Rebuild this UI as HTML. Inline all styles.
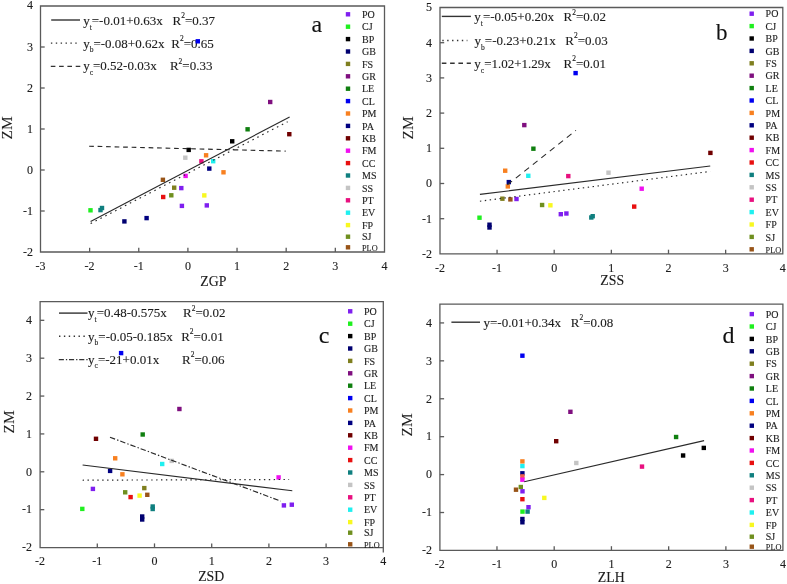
<!DOCTYPE html>
<html><head><meta charset="utf-8"><title>ZM scatter plots</title><style>
html,body{margin:0;padding:0;background:#fff;width:787px;height:584px;overflow:hidden;}
svg{display:block;filter:blur(0.4px);}
text{font-family:"Liberation Serif",serif;fill:#1c1c1c;stroke:#1c1c1c;stroke-width:0.12px;}
.tl{font-size:12px;}
.at{font-size:13.8px;}
.zm{font-size:15.3px;}
.eq{font-size:13px;}
.sb,.sp{font-size:7.5px;}
.lg{font-size:10px;}
.lgs{font-size:9px;}
.pl{font-size:24px;fill:#111;}
</style></head><body>
<svg width="787" height="584" viewBox="0 0 787 584">
<rect width="787" height="584" fill="#fff"/>
<path d="M40.5 6H384.5V252H40.5Z" fill="none" stroke="#5a5a5a" stroke-width="1.3"/>
<text x="40.48" y="270" class="tl" text-anchor="middle">-3</text>
<line x1="89.62" y1="252" x2="89.62" y2="247.8" stroke="#5a5a5a" stroke-width="1.3"/>
<text x="89.62" y="270" class="tl" text-anchor="middle">-2</text>
<line x1="138.76" y1="252" x2="138.76" y2="247.8" stroke="#5a5a5a" stroke-width="1.3"/>
<text x="138.76" y="270" class="tl" text-anchor="middle">-1</text>
<line x1="187.9" y1="252" x2="187.9" y2="247.8" stroke="#5a5a5a" stroke-width="1.3"/>
<text x="187.9" y="270" class="tl" text-anchor="middle">0</text>
<line x1="237.04" y1="252" x2="237.04" y2="247.8" stroke="#5a5a5a" stroke-width="1.3"/>
<text x="237.04" y="270" class="tl" text-anchor="middle">1</text>
<line x1="286.18" y1="252" x2="286.18" y2="247.8" stroke="#5a5a5a" stroke-width="1.3"/>
<text x="286.18" y="270" class="tl" text-anchor="middle">2</text>
<line x1="335.32" y1="252" x2="335.32" y2="247.8" stroke="#5a5a5a" stroke-width="1.3"/>
<text x="335.32" y="270" class="tl" text-anchor="middle">3</text>
<text x="384.46" y="270" class="tl" text-anchor="middle">4</text>
<text x="33" y="255.8" class="tl" text-anchor="end">-2</text>
<line x1="40.5" y1="211" x2="44.7" y2="211" stroke="#5a5a5a" stroke-width="1.3"/>
<text x="33" y="214.8" class="tl" text-anchor="end">-1</text>
<line x1="40.5" y1="170" x2="44.7" y2="170" stroke="#5a5a5a" stroke-width="1.3"/>
<text x="33" y="173.8" class="tl" text-anchor="end">0</text>
<line x1="40.5" y1="129" x2="44.7" y2="129" stroke="#5a5a5a" stroke-width="1.3"/>
<text x="33" y="132.8" class="tl" text-anchor="end">1</text>
<line x1="40.5" y1="88" x2="44.7" y2="88" stroke="#5a5a5a" stroke-width="1.3"/>
<text x="33" y="91.8" class="tl" text-anchor="end">2</text>
<line x1="40.5" y1="47" x2="44.7" y2="47" stroke="#5a5a5a" stroke-width="1.3"/>
<text x="33" y="50.8" class="tl" text-anchor="end">3</text>
<text x="33" y="8.9" class="tl" text-anchor="end">4</text>
<text x="213.4" y="286.3" class="at" text-anchor="middle">ZGP</text>
<text class="zm" text-anchor="middle" transform="translate(11.5 128) rotate(-90)">ZM</text>
<rect x="88.3" y="208.1" width="4.4" height="4.4" fill="#1ff01f"/>
<rect x="98.3" y="207.9" width="4.4" height="4.4" fill="#0f7f7f"/>
<rect x="99.8" y="205.8" width="4.4" height="4.4" fill="#0f7f7f"/>
<rect x="122.2" y="219.2" width="4.4" height="4.4" fill="#000070"/>
<rect x="144.4" y="215.9" width="4.4" height="4.4" fill="#000080"/>
<rect x="160.7" y="177.6" width="4.4" height="4.4" fill="#985418"/>
<rect x="161" y="194.8" width="4.4" height="4.4" fill="#e81010"/>
<rect x="169.1" y="193.1" width="4.4" height="4.4" fill="#6f8f1f"/>
<rect x="172" y="185.5" width="4.4" height="4.4" fill="#7f7f1f"/>
<rect x="179.1" y="185.9" width="4.4" height="4.4" fill="#7f1fef"/>
<rect x="179.7" y="203.7" width="4.4" height="4.4" fill="#7f1fef"/>
<rect x="183.4" y="173.7" width="4.4" height="4.4" fill="#f010f0"/>
<rect x="183.1" y="155.5" width="4.4" height="4.4" fill="#c4c4c4"/>
<rect x="186.5" y="147.7" width="4.4" height="4.4" fill="#000000"/>
<rect x="199.2" y="159.1" width="4.4" height="4.4" fill="#e8107f"/>
<rect x="203.9" y="153.1" width="4.4" height="4.4" fill="#f88020"/>
<rect x="211" y="159" width="4.4" height="4.4" fill="#1ff0f0"/>
<rect x="207.1" y="166.4" width="4.4" height="4.4" fill="#000080"/>
<rect x="202.1" y="193.2" width="4.4" height="4.4" fill="#f8f820"/>
<rect x="204.6" y="203.2" width="4.4" height="4.4" fill="#7f1fef"/>
<rect x="221.3" y="170.1" width="4.4" height="4.4" fill="#f88020"/>
<rect x="230" y="139.1" width="4.4" height="4.4" fill="#000000"/>
<rect x="245.4" y="127.1" width="4.4" height="4.4" fill="#0f7f0f"/>
<rect x="268" y="99.8" width="4.4" height="4.4" fill="#7f0f7f"/>
<rect x="287.1" y="132" width="4.4" height="4.4" fill="#700000"/>
<line x1="90.6" y1="221.55" x2="289.62" y2="116.94" stroke="#2a2a2a" stroke-width="1.15"/>
<line x1="90.6" y1="223.61" x2="287.65" y2="121.68" stroke="#2a2a2a" stroke-width="1.15" stroke-dasharray="1.58 3.94"/>
<line x1="89.13" y1="146.21" x2="285.69" y2="151.13" stroke="#2a2a2a" stroke-width="1.15" stroke-dasharray="4.7 3.8"/>
<line x1="51.2" y1="20" x2="80" y2="20" stroke="#333" stroke-width="1.4"/>
<text x="83.2" y="25" class="eq">y<tspan class="sb" dy="4.8">t</tspan><tspan dy="-4.8">=-0.01+0.63x</tspan></text>
<text x="172.6" y="25" class="eq">R<tspan class="sp" dy="-6.8">2</tspan><tspan dy="6.8">=0.37</tspan></text>
<line x1="50.9" y1="43.1" x2="77" y2="43.1" stroke="#333" stroke-width="1.4" stroke-dasharray="1.4 3.48"/>
<text x="83.2" y="47.5" class="eq">y<tspan class="sb" dy="4.8">b</tspan><tspan dy="-4.8">=-0.08+0.62x</tspan></text>
<text x="171.3" y="47.5" class="eq">R<tspan class="sp" dy="-6.8">2</tspan><tspan dy="6.8">=0.65</tspan></text>
<line x1="50.8" y1="66.4" x2="80.3" y2="66.4" stroke="#333" stroke-width="1.4" stroke-dasharray="4.6 3.7"/>
<text x="83.2" y="70.4" class="eq">y<tspan class="sb" dy="4.8">c</tspan><tspan dy="-4.8">=0.52-0.03x</tspan></text>
<text x="169.9" y="70.4" class="eq">R<tspan class="sp" dy="-6.8">2</tspan><tspan dy="6.8">=0.33</tspan></text>
<rect x="195.6" y="39.1" width="4.4" height="4.4" fill="#0000f0"/>
<text x="311.5" y="32" class="pl">a</text>
<rect x="345.8" y="12.1" width="4.4" height="4.4" fill="#7f1fef"/>
<text x="362" y="17.9" class="lg">PO</text>
<rect x="345.8" y="24.5" width="4.4" height="4.4" fill="#1ff01f"/>
<text x="362" y="30.3" class="lg">CJ</text>
<rect x="345.8" y="36.9" width="4.4" height="4.4" fill="#000000"/>
<text x="362" y="42.7" class="lg">BP</text>
<rect x="345.8" y="49.3" width="4.4" height="4.4" fill="#000070"/>
<text x="362" y="55.1" class="lg">GB</text>
<rect x="345.8" y="61.7" width="4.4" height="4.4" fill="#7f7f1f"/>
<text x="362" y="67.5" class="lg">FS</text>
<rect x="345.8" y="74.1" width="4.4" height="4.4" fill="#7f0f7f"/>
<text x="362" y="79.9" class="lg">GR</text>
<rect x="345.8" y="86.5" width="4.4" height="4.4" fill="#0f7f0f"/>
<text x="362" y="92.3" class="lg">LE</text>
<rect x="345.8" y="98.9" width="4.4" height="4.4" fill="#0000f0"/>
<text x="362" y="104.7" class="lg">CL</text>
<rect x="345.8" y="111.3" width="4.4" height="4.4" fill="#f88020"/>
<text x="362" y="117.1" class="lg">PM</text>
<rect x="345.8" y="123.7" width="4.4" height="4.4" fill="#000080"/>
<text x="362" y="129.5" class="lg">PA</text>
<rect x="345.8" y="136.1" width="4.4" height="4.4" fill="#700000"/>
<text x="362" y="141.9" class="lg">KB</text>
<rect x="345.8" y="148.5" width="4.4" height="4.4" fill="#f010f0"/>
<text x="362" y="154.3" class="lg">FM</text>
<rect x="345.8" y="160.9" width="4.4" height="4.4" fill="#e81010"/>
<text x="362" y="166.7" class="lg">CC</text>
<rect x="345.8" y="173.3" width="4.4" height="4.4" fill="#0f7f7f"/>
<text x="362" y="179.1" class="lg">MS</text>
<rect x="345.8" y="185.7" width="4.4" height="4.4" fill="#c4c4c4"/>
<text x="362" y="191.5" class="lg">SS</text>
<rect x="345.8" y="198.1" width="4.4" height="4.4" fill="#e8107f"/>
<text x="362" y="203.9" class="lg">PT</text>
<rect x="345.8" y="210.5" width="4.4" height="4.4" fill="#1ff0f0"/>
<text x="362" y="216.3" class="lg">EV</text>
<rect x="345.8" y="222.9" width="4.4" height="4.4" fill="#f8f820"/>
<text x="362" y="228.7" class="lg">FP</text>
<rect x="345.8" y="234.5" width="4.4" height="4.4" fill="#6f8f1f"/>
<text x="362" y="240.3" class="lg">SJ</text>
<rect x="345.8" y="245.1" width="4.4" height="4.4" fill="#985418"/>
<text x="362" y="250.7" class="lgs" textLength="15.6" lengthAdjust="spacingAndGlyphs">PLO</text>
<path d="M440 7.5H782.8V253.9H440Z" fill="none" stroke="#5a5a5a" stroke-width="1.3"/>
<text x="439.9" y="271.7" class="tl" text-anchor="middle">-2</text>
<line x1="497.05" y1="253.9" x2="497.05" y2="249.7" stroke="#5a5a5a" stroke-width="1.3"/>
<text x="497.05" y="271.7" class="tl" text-anchor="middle">-1</text>
<line x1="554.2" y1="253.9" x2="554.2" y2="249.7" stroke="#5a5a5a" stroke-width="1.3"/>
<text x="554.2" y="271.7" class="tl" text-anchor="middle">0</text>
<line x1="611.35" y1="253.9" x2="611.35" y2="249.7" stroke="#5a5a5a" stroke-width="1.3"/>
<text x="611.35" y="271.7" class="tl" text-anchor="middle">1</text>
<line x1="668.5" y1="253.9" x2="668.5" y2="249.7" stroke="#5a5a5a" stroke-width="1.3"/>
<text x="668.5" y="271.7" class="tl" text-anchor="middle">2</text>
<line x1="725.65" y1="253.9" x2="725.65" y2="249.7" stroke="#5a5a5a" stroke-width="1.3"/>
<text x="725.65" y="271.7" class="tl" text-anchor="middle">3</text>
<text x="782.8" y="271.7" class="tl" text-anchor="middle">4</text>
<text x="432" y="257.7" class="tl" text-anchor="end">-2</text>
<line x1="440" y1="218.7" x2="444.2" y2="218.7" stroke="#5a5a5a" stroke-width="1.3"/>
<text x="432" y="222.5" class="tl" text-anchor="end">-1</text>
<line x1="440" y1="183.5" x2="444.2" y2="183.5" stroke="#5a5a5a" stroke-width="1.3"/>
<text x="432" y="187.3" class="tl" text-anchor="end">0</text>
<line x1="440" y1="148.3" x2="444.2" y2="148.3" stroke="#5a5a5a" stroke-width="1.3"/>
<text x="432" y="152.1" class="tl" text-anchor="end">1</text>
<line x1="440" y1="113.1" x2="444.2" y2="113.1" stroke="#5a5a5a" stroke-width="1.3"/>
<text x="432" y="116.9" class="tl" text-anchor="end">2</text>
<line x1="440" y1="77.9" x2="444.2" y2="77.9" stroke="#5a5a5a" stroke-width="1.3"/>
<text x="432" y="81.7" class="tl" text-anchor="end">3</text>
<line x1="440" y1="42.7" x2="444.2" y2="42.7" stroke="#5a5a5a" stroke-width="1.3"/>
<text x="432" y="46.5" class="tl" text-anchor="end">4</text>
<text x="432" y="11.3" class="tl" text-anchor="end">5</text>
<text x="612.2" y="284.6" class="at" text-anchor="middle">ZSS</text>
<text class="zm" text-anchor="middle" transform="translate(413 128) rotate(-90)">ZM</text>
<rect x="573.4" y="70.9" width="4.4" height="4.4" fill="#0000f0"/>
<rect x="522.1" y="122.9" width="4.4" height="4.4" fill="#7f0f7f"/>
<rect x="531.2" y="146.5" width="4.4" height="4.4" fill="#0f7f0f"/>
<rect x="708.2" y="150.7" width="4.4" height="4.4" fill="#700000"/>
<rect x="503" y="168.5" width="4.4" height="4.4" fill="#f88020"/>
<rect x="606.3" y="170.5" width="4.4" height="4.4" fill="#c4c4c4"/>
<rect x="526.1" y="173.6" width="4.4" height="4.4" fill="#1ff0f0"/>
<rect x="566.1" y="173.9" width="4.4" height="4.4" fill="#e8107f"/>
<rect x="505.6" y="184.2" width="4.4" height="4.4" fill="#f88020"/>
<rect x="506.6" y="179.9" width="4.4" height="4.4" fill="#000080"/>
<rect x="639.5" y="186.5" width="4.4" height="4.4" fill="#f010f0"/>
<rect x="500.2" y="196.5" width="4.4" height="4.4" fill="#7f7f1f"/>
<rect x="508.2" y="197.2" width="4.4" height="4.4" fill="#985418"/>
<rect x="514.3" y="196.8" width="4.4" height="4.4" fill="#7f1fef"/>
<rect x="539.9" y="202.8" width="4.4" height="4.4" fill="#6f8f1f"/>
<rect x="548.2" y="203.1" width="4.4" height="4.4" fill="#f8f820"/>
<rect x="632" y="204.4" width="4.4" height="4.4" fill="#e81010"/>
<rect x="558.6" y="212" width="4.4" height="4.4" fill="#7f1fef"/>
<rect x="564.2" y="211.3" width="4.4" height="4.4" fill="#7f1fef"/>
<rect x="589.1" y="215.3" width="4.4" height="4.4" fill="#0f7f7f"/>
<rect x="590.5" y="214" width="4.4" height="4.4" fill="#0f7f7f"/>
<rect x="477.3" y="215.5" width="4.4" height="4.4" fill="#1ff01f"/>
<rect x="487.3" y="222.5" width="4.4" height="4.4" fill="#000070"/>
<rect x="487.3" y="225.3" width="4.4" height="4.4" fill="#000070"/>
<line x1="479.91" y1="194.41" x2="710.22" y2="166.04" stroke="#2a2a2a" stroke-width="1.15"/>
<line x1="479.91" y1="201.21" x2="710.22" y2="171.42" stroke="#2a2a2a" stroke-width="1.15" stroke-dasharray="1.41 3.53"/>
<line x1="507.34" y1="184.83" x2="575.92" y2="130.34" stroke="#2a2a2a" stroke-width="1.15" stroke-dasharray="6 4.85"/>
<line x1="441.8" y1="16.4" x2="470.9" y2="16.4" stroke="#333" stroke-width="1.4"/>
<text x="474.3" y="21.4" class="eq">y<tspan class="sb" dy="4.8">t</tspan><tspan dy="-4.8">=-0.05+0.20x</tspan></text>
<text x="563.5" y="21.4" class="eq">R<tspan class="sp" dy="-6.8">2</tspan><tspan dy="6.8">=0.02</tspan></text>
<line x1="442.3" y1="40.5" x2="467.4" y2="40.5" stroke="#333" stroke-width="1.4" stroke-dasharray="1.4 3.48"/>
<text x="474.6" y="44.8" class="eq">y<tspan class="sb" dy="4.8">b</tspan><tspan dy="-4.8">=-0.23+0.21x</tspan></text>
<text x="565.3" y="44.8" class="eq">R<tspan class="sp" dy="-6.8">2</tspan><tspan dy="6.8">=0.03</tspan></text>
<line x1="441.8" y1="63.3" x2="470.9" y2="63.3" stroke="#333" stroke-width="1.4" stroke-dasharray="4.6 3.7"/>
<text x="474.3" y="67.8" class="eq">y<tspan class="sb" dy="4.8">c</tspan><tspan dy="-4.8">=1.02+1.29x</tspan></text>
<text x="563.5" y="67.8" class="eq">R<tspan class="sp" dy="-6.8">2</tspan><tspan dy="6.8">=0.01</tspan></text>
<text x="716" y="39.5" class="pl" style="font-size:23px">b</text>
<rect x="749.5" y="11.5" width="4.4" height="4.4" fill="#7f1fef"/>
<text x="765.6" y="17.3" class="lg">PO</text>
<rect x="749.5" y="23.9" width="4.4" height="4.4" fill="#1ff01f"/>
<text x="765.6" y="29.7" class="lg">CJ</text>
<rect x="749.5" y="36.3" width="4.4" height="4.4" fill="#000000"/>
<text x="765.6" y="42.1" class="lg">BP</text>
<rect x="749.5" y="48.7" width="4.4" height="4.4" fill="#000070"/>
<text x="765.6" y="54.5" class="lg">GB</text>
<rect x="749.5" y="61.1" width="4.4" height="4.4" fill="#7f7f1f"/>
<text x="765.6" y="66.9" class="lg">FS</text>
<rect x="749.5" y="73.5" width="4.4" height="4.4" fill="#7f0f7f"/>
<text x="765.6" y="79.3" class="lg">GR</text>
<rect x="749.5" y="85.9" width="4.4" height="4.4" fill="#0f7f0f"/>
<text x="765.6" y="91.7" class="lg">LE</text>
<rect x="749.5" y="98.3" width="4.4" height="4.4" fill="#0000f0"/>
<text x="765.6" y="104.1" class="lg">CL</text>
<rect x="749.5" y="110.7" width="4.4" height="4.4" fill="#f88020"/>
<text x="765.6" y="116.5" class="lg">PM</text>
<rect x="749.5" y="123.1" width="4.4" height="4.4" fill="#000080"/>
<text x="765.6" y="128.9" class="lg">PA</text>
<rect x="749.5" y="135.5" width="4.4" height="4.4" fill="#700000"/>
<text x="765.6" y="141.3" class="lg">KB</text>
<rect x="749.5" y="147.9" width="4.4" height="4.4" fill="#f010f0"/>
<text x="765.6" y="153.7" class="lg">FM</text>
<rect x="749.5" y="160.3" width="4.4" height="4.4" fill="#e81010"/>
<text x="765.6" y="166.1" class="lg">CC</text>
<rect x="749.5" y="172.7" width="4.4" height="4.4" fill="#0f7f7f"/>
<text x="765.6" y="178.5" class="lg">MS</text>
<rect x="749.5" y="185.1" width="4.4" height="4.4" fill="#c4c4c4"/>
<text x="765.6" y="190.9" class="lg">SS</text>
<rect x="749.5" y="197.5" width="4.4" height="4.4" fill="#e8107f"/>
<text x="765.6" y="203.3" class="lg">PT</text>
<rect x="749.5" y="209.9" width="4.4" height="4.4" fill="#1ff0f0"/>
<text x="765.6" y="215.7" class="lg">EV</text>
<rect x="749.5" y="222.3" width="4.4" height="4.4" fill="#f8f820"/>
<text x="765.6" y="228.1" class="lg">FP</text>
<rect x="749.5" y="234.7" width="4.4" height="4.4" fill="#6f8f1f"/>
<text x="765.6" y="240.5" class="lg">SJ</text>
<rect x="749.5" y="247.1" width="4.4" height="4.4" fill="#985418"/>
<text x="765.6" y="252.7" class="lgs" textLength="15.6" lengthAdjust="spacingAndGlyphs">PLO</text>
<path d="M40.1 301.6H383.3V547.6H40.1Z" fill="none" stroke="#5a5a5a" stroke-width="1.3"/>
<line x1="383.3" y1="547.6" x2="383.3" y2="552.6" stroke="#5a5a5a" stroke-width="1.3"/>
<text x="40.1" y="565.4" class="tl" text-anchor="middle">-2</text>
<line x1="97.3" y1="547.6" x2="97.3" y2="543.4" stroke="#5a5a5a" stroke-width="1.3"/>
<text x="97.3" y="565.4" class="tl" text-anchor="middle">-1</text>
<line x1="154.5" y1="547.6" x2="154.5" y2="543.4" stroke="#5a5a5a" stroke-width="1.3"/>
<text x="154.5" y="565.4" class="tl" text-anchor="middle">0</text>
<line x1="211.7" y1="547.6" x2="211.7" y2="543.4" stroke="#5a5a5a" stroke-width="1.3"/>
<text x="211.7" y="565.4" class="tl" text-anchor="middle">1</text>
<line x1="268.9" y1="547.6" x2="268.9" y2="543.4" stroke="#5a5a5a" stroke-width="1.3"/>
<text x="268.9" y="565.4" class="tl" text-anchor="middle">2</text>
<line x1="326.1" y1="547.6" x2="326.1" y2="543.4" stroke="#5a5a5a" stroke-width="1.3"/>
<text x="326.1" y="565.4" class="tl" text-anchor="middle">3</text>
<text x="383.3" y="565.4" class="tl" text-anchor="middle">4</text>
<text x="32" y="551.34" class="tl" text-anchor="end">-2</text>
<line x1="40.1" y1="509.67" x2="44.3" y2="509.67" stroke="#5a5a5a" stroke-width="1.3"/>
<text x="32" y="513.47" class="tl" text-anchor="end">-1</text>
<line x1="40.1" y1="471.8" x2="44.3" y2="471.8" stroke="#5a5a5a" stroke-width="1.3"/>
<text x="32" y="475.6" class="tl" text-anchor="end">0</text>
<line x1="40.1" y1="433.93" x2="44.3" y2="433.93" stroke="#5a5a5a" stroke-width="1.3"/>
<text x="32" y="437.73" class="tl" text-anchor="end">1</text>
<line x1="40.1" y1="396.06" x2="44.3" y2="396.06" stroke="#5a5a5a" stroke-width="1.3"/>
<text x="32" y="399.86" class="tl" text-anchor="end">2</text>
<line x1="40.1" y1="358.19" x2="44.3" y2="358.19" stroke="#5a5a5a" stroke-width="1.3"/>
<text x="32" y="361.99" class="tl" text-anchor="end">3</text>
<line x1="40.1" y1="320.32" x2="44.3" y2="320.32" stroke="#5a5a5a" stroke-width="1.3"/>
<text x="32" y="324.12" class="tl" text-anchor="end">4</text>
<text x="211.2" y="580.8" class="at" text-anchor="middle">ZSD</text>
<text class="zm" text-anchor="middle" transform="translate(13.5 422) rotate(-90)">ZM</text>
<rect x="177.2" y="406.8" width="4.4" height="4.4" fill="#7f0f7f"/>
<rect x="140.5" y="432.3" width="4.4" height="4.4" fill="#0f7f0f"/>
<rect x="93.8" y="436.6" width="4.4" height="4.4" fill="#700000"/>
<rect x="113" y="456.1" width="4.4" height="4.4" fill="#f88020"/>
<rect x="160" y="461.8" width="4.4" height="4.4" fill="#1ff0f0"/>
<rect x="169.5" y="458.7" width="4.4" height="4.4" fill="#c4c4c4"/>
<rect x="107.9" y="468.7" width="4.4" height="4.4" fill="#000080"/>
<rect x="120.2" y="472.1" width="4.4" height="4.4" fill="#f88020"/>
<rect x="276.4" y="475.2" width="4.4" height="4.4" fill="#f010f0"/>
<rect x="90.7" y="486.7" width="4.4" height="4.4" fill="#7f1fef"/>
<rect x="142.1" y="485.9" width="4.4" height="4.4" fill="#7f7f1f"/>
<rect x="123" y="490.1" width="4.4" height="4.4" fill="#6f8f1f"/>
<rect x="128.4" y="494.9" width="4.4" height="4.4" fill="#e81010"/>
<rect x="137.4" y="493.4" width="4.4" height="4.4" fill="#f8f820"/>
<rect x="145.1" y="492.6" width="4.4" height="4.4" fill="#985418"/>
<rect x="80.1" y="506.7" width="4.4" height="4.4" fill="#1ff01f"/>
<rect x="150.5" y="504.3" width="4.4" height="4.4" fill="#0f7f7f"/>
<rect x="150.5" y="506.8" width="4.4" height="4.4" fill="#0f7f7f"/>
<rect x="140" y="514.3" width="4.4" height="4.4" fill="#000070"/>
<rect x="140" y="517.3" width="4.4" height="4.4" fill="#000070"/>
<rect x="281.7" y="503.2" width="4.4" height="4.4" fill="#7f1fef"/>
<rect x="289.6" y="502.5" width="4.4" height="4.4" fill="#7f1fef"/>
<line x1="82.6" y1="465" x2="292.3" y2="490.8" stroke="#2a2a2a" stroke-width="1.15"/>
<line x1="82.6" y1="480.2" x2="289.1" y2="479.5" stroke="#2a2a2a" stroke-width="1.15" stroke-dasharray="1.4 3.5"/>
<line x1="110" y1="437.2" x2="280.7" y2="501.1" stroke="#2a2a2a" stroke-width="1.15" stroke-dasharray="5.45 2.14 1.39 1.92"/>
<line x1="59" y1="313.1" x2="87.5" y2="313.1" stroke="#333" stroke-width="1.4"/>
<text x="88.1" y="317.3" class="eq">y<tspan class="sb" dy="4.8">t</tspan><tspan dy="-4.8">=0.48-0.575x</tspan></text>
<text x="183.1" y="317.3" class="eq">R<tspan class="sp" dy="-6.8">2</tspan><tspan dy="6.8">=0.02</tspan></text>
<line x1="59" y1="336.3" x2="85" y2="336.3" stroke="#333" stroke-width="1.4" stroke-dasharray="1.4 3.48"/>
<text x="88.1" y="340.5" class="eq">y<tspan class="sb" dy="4.8">b</tspan><tspan dy="-4.8">=-0.05-0.185x</tspan></text>
<text x="181.2" y="340.5" class="eq">R<tspan class="sp" dy="-6.8">2</tspan><tspan dy="6.8">=0.01</tspan></text>
<line x1="58.8" y1="359.6" x2="87.6" y2="359.6" stroke="#333" stroke-width="1.4" stroke-dasharray="5.1 2 1.3 1.8"/>
<text x="88.1" y="363.5" class="eq">y<tspan class="sb" dy="4.8">c</tspan><tspan dy="-4.8">=-21+0.01x</tspan></text>
<text x="182" y="363.5" class="eq">R<tspan class="sp" dy="-6.8">2</tspan><tspan dy="6.8">=0.06</tspan></text>
<rect x="118.9" y="350.9" width="4.4" height="4.4" fill="#0000f0"/>
<text x="318.7" y="342.6" class="pl">c</text>
<rect x="348" y="309.1" width="4.4" height="4.4" fill="#7f1fef"/>
<text x="364" y="314.9" class="lg">PO</text>
<rect x="348" y="321.5" width="4.4" height="4.4" fill="#1ff01f"/>
<text x="364" y="327.3" class="lg">CJ</text>
<rect x="348" y="333.9" width="4.4" height="4.4" fill="#000000"/>
<text x="364" y="339.7" class="lg">BP</text>
<rect x="348" y="346.3" width="4.4" height="4.4" fill="#000070"/>
<text x="364" y="352.1" class="lg">GB</text>
<rect x="348" y="358.7" width="4.4" height="4.4" fill="#7f7f1f"/>
<text x="364" y="364.5" class="lg">FS</text>
<rect x="348" y="371.1" width="4.4" height="4.4" fill="#7f0f7f"/>
<text x="364" y="376.9" class="lg">GR</text>
<rect x="348" y="383.5" width="4.4" height="4.4" fill="#0f7f0f"/>
<text x="364" y="389.3" class="lg">LE</text>
<rect x="348" y="395.9" width="4.4" height="4.4" fill="#0000f0"/>
<text x="364" y="401.7" class="lg">CL</text>
<rect x="348" y="408.3" width="4.4" height="4.4" fill="#f88020"/>
<text x="364" y="414.1" class="lg">PM</text>
<rect x="348" y="420.7" width="4.4" height="4.4" fill="#000080"/>
<text x="364" y="426.5" class="lg">PA</text>
<rect x="348" y="433.1" width="4.4" height="4.4" fill="#700000"/>
<text x="364" y="438.9" class="lg">KB</text>
<rect x="348" y="445.5" width="4.4" height="4.4" fill="#f010f0"/>
<text x="364" y="451.3" class="lg">FM</text>
<rect x="348" y="457.9" width="4.4" height="4.4" fill="#e81010"/>
<text x="364" y="463.7" class="lg">CC</text>
<rect x="348" y="470.3" width="4.4" height="4.4" fill="#0f7f7f"/>
<text x="364" y="476.1" class="lg">MS</text>
<rect x="348" y="482.7" width="4.4" height="4.4" fill="#c4c4c4"/>
<text x="364" y="488.5" class="lg">SS</text>
<rect x="348" y="495.1" width="4.4" height="4.4" fill="#e8107f"/>
<text x="364" y="500.9" class="lg">PT</text>
<rect x="348" y="507.5" width="4.4" height="4.4" fill="#1ff0f0"/>
<text x="364" y="513.3" class="lg">EV</text>
<rect x="348" y="519.9" width="4.4" height="4.4" fill="#f8f820"/>
<text x="364" y="525.7" class="lg">FP</text>
<rect x="348" y="530.5" width="4.4" height="4.4" fill="#6f8f1f"/>
<text x="364" y="536.3" class="lg">SJ</text>
<rect x="348" y="542.1" width="4.4" height="4.4" fill="#985418"/>
<text x="364" y="547.7" class="lgs" textLength="15.6" lengthAdjust="spacingAndGlyphs">PLO</text>
<path d="M439.9 304.2H782.9V550.4H439.9Z" fill="none" stroke="#5a5a5a" stroke-width="1.3"/>
<text x="439.74" y="568" class="tl" text-anchor="middle">-2</text>
<line x1="496.97" y1="550.4" x2="496.97" y2="546.2" stroke="#5a5a5a" stroke-width="1.3"/>
<text x="496.97" y="568" class="tl" text-anchor="middle">-1</text>
<line x1="554.2" y1="550.4" x2="554.2" y2="546.2" stroke="#5a5a5a" stroke-width="1.3"/>
<text x="554.2" y="568" class="tl" text-anchor="middle">0</text>
<line x1="611.43" y1="550.4" x2="611.43" y2="546.2" stroke="#5a5a5a" stroke-width="1.3"/>
<text x="611.43" y="568" class="tl" text-anchor="middle">1</text>
<line x1="668.66" y1="550.4" x2="668.66" y2="546.2" stroke="#5a5a5a" stroke-width="1.3"/>
<text x="668.66" y="568" class="tl" text-anchor="middle">2</text>
<line x1="725.89" y1="550.4" x2="725.89" y2="546.2" stroke="#5a5a5a" stroke-width="1.3"/>
<text x="725.89" y="568" class="tl" text-anchor="middle">3</text>
<text x="783.12" y="568" class="tl" text-anchor="middle">4</text>
<text x="432" y="554.24" class="tl" text-anchor="end">-2</text>
<line x1="439.9" y1="512.52" x2="444.1" y2="512.52" stroke="#5a5a5a" stroke-width="1.3"/>
<text x="432" y="516.32" class="tl" text-anchor="end">-1</text>
<line x1="439.9" y1="474.6" x2="444.1" y2="474.6" stroke="#5a5a5a" stroke-width="1.3"/>
<text x="432" y="478.4" class="tl" text-anchor="end">0</text>
<line x1="439.9" y1="436.68" x2="444.1" y2="436.68" stroke="#5a5a5a" stroke-width="1.3"/>
<text x="432" y="440.48" class="tl" text-anchor="end">1</text>
<line x1="439.9" y1="398.76" x2="444.1" y2="398.76" stroke="#5a5a5a" stroke-width="1.3"/>
<text x="432" y="402.56" class="tl" text-anchor="end">2</text>
<line x1="439.9" y1="360.84" x2="444.1" y2="360.84" stroke="#5a5a5a" stroke-width="1.3"/>
<text x="432" y="364.64" class="tl" text-anchor="end">3</text>
<line x1="439.9" y1="322.92" x2="444.1" y2="322.92" stroke="#5a5a5a" stroke-width="1.3"/>
<text x="432" y="326.72" class="tl" text-anchor="end">4</text>
<text x="611.2" y="582" class="at" text-anchor="middle">ZLH</text>
<text class="zm" text-anchor="middle" transform="translate(412 425) rotate(-90)">ZM</text>
<rect x="520.2" y="353.5" width="4.4" height="4.4" fill="#0000f0"/>
<rect x="568.2" y="409.6" width="4.4" height="4.4" fill="#7f0f7f"/>
<rect x="554" y="439" width="4.4" height="4.4" fill="#700000"/>
<rect x="673.9" y="434.8" width="4.4" height="4.4" fill="#0f7f0f"/>
<rect x="701.6" y="445.7" width="4.4" height="4.4" fill="#000000"/>
<rect x="680.9" y="453.3" width="4.4" height="4.4" fill="#000000"/>
<rect x="574.1" y="460.8" width="4.4" height="4.4" fill="#c4c4c4"/>
<rect x="639.8" y="464.4" width="4.4" height="4.4" fill="#e8107f"/>
<rect x="520.2" y="459.2" width="4.4" height="4.4" fill="#f88020"/>
<rect x="520.2" y="463.9" width="4.4" height="4.4" fill="#1ff0f0"/>
<rect x="520.2" y="471.1" width="4.4" height="4.4" fill="#000080"/>
<rect x="520.2" y="474.2" width="4.4" height="4.4" fill="#f0604a"/>
<rect x="520.2" y="477.5" width="4.4" height="4.4" fill="#f010f0"/>
<rect x="518.6" y="484.8" width="4.4" height="4.4" fill="#6f8f1f"/>
<rect x="513.8" y="487.5" width="4.4" height="4.4" fill="#985418"/>
<rect x="520.3" y="489.1" width="4.4" height="4.4" fill="#7f1fef"/>
<rect x="520.2" y="497" width="4.4" height="4.4" fill="#e81010"/>
<rect x="542.1" y="495.7" width="4.4" height="4.4" fill="#f8f820"/>
<rect x="526.3" y="505" width="4.4" height="4.4" fill="#7f1fef"/>
<rect x="520.3" y="509.4" width="4.4" height="4.4" fill="#1ff01f"/>
<rect x="525.4" y="509.4" width="4.4" height="4.4" fill="#0f7f7f"/>
<rect x="520.2" y="516.8" width="4.4" height="4.4" fill="#000070"/>
<rect x="520.2" y="520.1" width="4.4" height="4.4" fill="#000070"/>
<line x1="524.2" y1="481.7" x2="704.1" y2="440.6" stroke="#2a2a2a" stroke-width="1.15"/>
<line x1="451.4" y1="322.2" x2="480" y2="322.2" stroke="#333" stroke-width="1.4"/>
<text x="483.5" y="326.5" class="eq">y=-0.01+0.34x</text>
<text x="570.8" y="326.5" class="eq">R<tspan class="sp" dy="-6.8">2</tspan><tspan dy="6.8">=0.08</tspan></text>
<text x="722.5" y="342.6" class="pl">d</text>
<rect x="749.6" y="311.9" width="4.4" height="4.4" fill="#7f1fef"/>
<text x="765.8" y="317.7" class="lg">PO</text>
<rect x="749.6" y="324.3" width="4.4" height="4.4" fill="#1ff01f"/>
<text x="765.8" y="330.1" class="lg">CJ</text>
<rect x="749.6" y="336.7" width="4.4" height="4.4" fill="#000000"/>
<text x="765.8" y="342.5" class="lg">BP</text>
<rect x="749.6" y="349.1" width="4.4" height="4.4" fill="#000070"/>
<text x="765.8" y="354.9" class="lg">GB</text>
<rect x="749.6" y="361.5" width="4.4" height="4.4" fill="#7f7f1f"/>
<text x="765.8" y="367.3" class="lg">FS</text>
<rect x="749.6" y="373.9" width="4.4" height="4.4" fill="#7f0f7f"/>
<text x="765.8" y="379.7" class="lg">GR</text>
<rect x="749.6" y="386.3" width="4.4" height="4.4" fill="#0f7f0f"/>
<text x="765.8" y="392.1" class="lg">LE</text>
<rect x="749.6" y="398.7" width="4.4" height="4.4" fill="#0000f0"/>
<text x="765.8" y="404.5" class="lg">CL</text>
<rect x="749.6" y="411.1" width="4.4" height="4.4" fill="#f88020"/>
<text x="765.8" y="416.9" class="lg">PM</text>
<rect x="749.6" y="423.5" width="4.4" height="4.4" fill="#000080"/>
<text x="765.8" y="429.3" class="lg">PA</text>
<rect x="749.6" y="435.9" width="4.4" height="4.4" fill="#700000"/>
<text x="765.8" y="441.7" class="lg">KB</text>
<rect x="749.6" y="448.3" width="4.4" height="4.4" fill="#f010f0"/>
<text x="765.8" y="454.1" class="lg">FM</text>
<rect x="749.6" y="460.7" width="4.4" height="4.4" fill="#e81010"/>
<text x="765.8" y="466.5" class="lg">CC</text>
<rect x="749.6" y="473.1" width="4.4" height="4.4" fill="#0f7f7f"/>
<text x="765.8" y="478.9" class="lg">MS</text>
<rect x="749.6" y="485.5" width="4.4" height="4.4" fill="#c4c4c4"/>
<text x="765.8" y="491.3" class="lg">SS</text>
<rect x="749.6" y="497.9" width="4.4" height="4.4" fill="#e8107f"/>
<text x="765.8" y="503.7" class="lg">PT</text>
<rect x="749.6" y="510.3" width="4.4" height="4.4" fill="#1ff0f0"/>
<text x="765.8" y="516.1" class="lg">EV</text>
<rect x="749.6" y="522.7" width="4.4" height="4.4" fill="#f8f820"/>
<text x="765.8" y="528.5" class="lg">FP</text>
<rect x="749.6" y="534.5" width="4.4" height="4.4" fill="#6f8f1f"/>
<text x="765.8" y="540.3" class="lg">SJ</text>
<rect x="749.6" y="544.5" width="4.4" height="4.4" fill="#985418"/>
<text x="765.8" y="550.1" class="lgs" textLength="15.6" lengthAdjust="spacingAndGlyphs">PLO</text>
</svg>
</body></html>
